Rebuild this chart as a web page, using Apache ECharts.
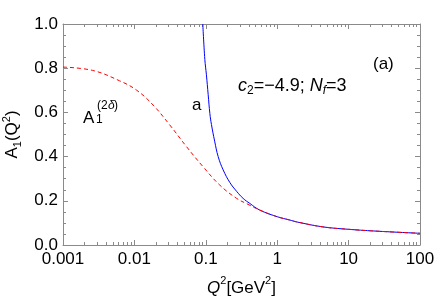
<!DOCTYPE html>
<html>
<head>
<meta charset="utf-8">
<script src="https://cdn.jsdelivr.net/npm/echarts@6/dist/echarts.min.js"></script>
<style>
html,body{margin:0;padding:0;background:#fff;}
#c{width:436px;height:300px;}
</style>
</head>
<body>
<div id="c"></div>
<script>
// ---- data ----
const redQ2 = [0.001, 0.0026, 0.0062, 0.0107, 0.0183, 0.0313, 0.0537, 0.0917, 0.157, 0.27, 0.39, 0.57, 1.0, 1.5, 1.9, 4.36, 10, 27, 100];
const redA  = [0.805, 0.790, 0.743, 0.701, 0.633, 0.543, 0.445, 0.354, 0.271, 0.211, 0.184, 0.158, 0.128, 0.113, 0.104, 0.082, 0.071, 0.062, 0.053];
const blueQ2 = [0.0908, 0.0969, 0.102, 0.108, 0.114, 0.120, 0.133, 0.149, 0.175, 0.217, 0.27, 0.333, 0.414, 0.57, 1.0, 1.5, 1.9, 4.36, 10, 27, 100];
const blueA  = [1.0, 0.84, 0.77, 0.68, 0.595, 0.545, 0.47, 0.40, 0.34, 0.283, 0.243, 0.211, 0.188, 0.158, 0.128, 0.113, 0.104, 0.082, 0.071, 0.062, 0.053];
const xTickValues = [0.001, 0.01, 0.1, 1, 10, 100];
const xTickLabels = ['0.001', '0.01', '0.1', '1', '10', '100'];
const yTickLabels = ['0.0', '0.2', '0.4', '0.6', '0.8', '1.0'];

const xMajorLog = xTickValues.map(v => Math.round(Math.log10(v)));
const xMinorLog = [];
for (let d = -3; d <= 1; d++) for (let m = 2; m <= 9; m++) xMinorLog.push(d + Math.log10(m));

const gray = '#8a8a8a';
const FONT = 'Liberation Sans, Arial, sans-serif';
const FS = 17;

const chart = echarts.init(document.getElementById('c'), null, {renderer: 'canvas'});

// tick/label helper axes in log10 space (exactly aligned with the log data axis)
function tickX(pos, values, len, line, labels, name) {
  const ax = {
    type: 'value', min: -3, max: 2, interval: 1, position: pos,
    axisLine: {show: line, onZero: false, lineStyle: {color: gray, width: 1}},
    axisTick: {show: true, inside: true, length: len, customValues: values, lineStyle: {color: gray, width: 1}},
    axisLabel: {show: labels, margin: 6, color: '#000', fontFamily: FONT, fontSize: FS,
      customValues: labels ? xMajorLog : undefined,
      formatter: (v) => { const k = xMajorLog.indexOf(Math.round(v)); return k >= 0 ? xTickLabels[k] : ''; }},
    splitLine: {show: false}, minorTick: {show: false}, minorSplitLine: {show: false}
  };
  if (name) {
    ax.name = '{i|Q}{sup|2}{a|[GeV}{sup|2}{a|]}';
    ax.nameLocation = 'middle';
    ax.nameGap = 30;
    ax.nameTextStyle = {
      color: '#000', fontFamily: FONT, fontSize: FS,
      rich: {
        i: {fontStyle: 'italic', fontFamily: FONT, fontSize: FS, color: '#000', lineHeight: 22, verticalAlign: 'bottom'},
        a: {fontFamily: FONT, fontSize: FS, color: '#000', lineHeight: 22, verticalAlign: 'bottom'},
        sup: {fontFamily: FONT, fontSize: 11, color: '#000', lineHeight: 12, verticalAlign: 'top'}
      }
    };
  }
  return ax;
}

function valY(pos, labels, name) {
  const ax = {
    type: 'value', min: 0, max: 1, interval: 0.2, position: pos,
    axisLine: {show: true, onZero: false, lineStyle: {color: gray, width: 1}},
    axisTick: {show: true, inside: true, length: 5, lineStyle: {color: gray, width: 1}},
    minorTick: {show: true, splitNumber: 4, length: 3, lineStyle: {color: gray, width: 1}},
    axisLabel: {show: labels, margin: 5, color: '#000', fontFamily: FONT, fontSize: FS,
      formatter: (v) => yTickLabels[Math.round(v * 5)]},
    splitLine: {show: false}
  };
  if (name) {
    ax.name = '{a|A}{sub|1}{a|(Q}{sup|2}{a|)}';
    ax.nameLocation = 'middle';
    ax.nameGap = 37;
    ax.nameTextStyle = {
      color: '#000', fontFamily: FONT, fontSize: FS,
      rich: {
        a: {fontFamily: FONT, fontSize: FS, color: '#000', lineHeight: 22, verticalAlign: 'middle'},
        sup: {fontFamily: FONT, fontSize: 11, color: '#000', lineHeight: 12, verticalAlign: 'top'},
        sub: {fontFamily: FONT, fontSize: 11, color: '#000', lineHeight: 12, verticalAlign: 'bottom'}
      }
    };
  }
  return ax;
}

const txt = (x, y, s, size, style) => ({
  type: 'text', x: x, y: y, z: 100,
  style: {text: s, fontFamily: FONT, fontSize: size, fontStyle: style || 'normal', fill: '#000', textVerticalAlign: 'alphabetic'}
});

chart.setOption({
  animation: false,
  backgroundColor: '#fff',
  grid: {left: 63, right: 16, top: 24, bottom: 55, containLabel: false, outerBoundsMode: 'none'},
  xAxis: [
    // data axis (log scale), invisible; ticks/labels come from the aligned helper axes
    {type: 'log', logBase: 10, min: 0.001, max: 100, position: 'bottom',
     axisLine: {show: false}, axisTick: {show: false}, axisLabel: {show: false}, splitLine: {show: false}},
    tickX('bottom', xMajorLog, 5, true, true, true),
    tickX('bottom', xMinorLog, 3, false, false, false),
    tickX('top', xMajorLog, 5, true, false, false),
    tickX('top', xMinorLog, 3, false, false, false)
  ],
  yAxis: [valY('left', true, true), valY('right', false, false)],
  series: [
    {
      type: 'line', xAxisIndex: 0, yAxisIndex: 0, showSymbol: false, symbol: 'none',
      smooth: 0.4, clip: true,
      data: blueQ2.map((q, i) => [q, blueA[i]]),
      lineStyle: {color: '#0000ff', width: 1}, z: 2
    },
    {
      type: 'line', xAxisIndex: 0, yAxisIndex: 0, showSymbol: false, symbol: 'none',
      smooth: 0.4, clip: true,
      data: redQ2.map((q, i) => [q, redA[i]]),
      lineStyle: {color: '#ff0000', width: 1, type: [4, 3]}, z: 3
    }
  ],
  graphic: [
    txt(83, 110, 'A', FS),
    txt(96, 114, '1', 12),
    txt(97, 100, '(2', 12),
    txt(108, 100, 'δ', 12, 'italic'),
    txt(114, 100, ')', 12),
    txt(192, 97, 'a', FS),
    {
      type: 'text', x: 238, y: 77, z: 100,
      style: {
        text: '{i|c}{s|2}{a|=−4.9; }{i|N}{si|f}{a|=3}',
        fontFamily: FONT, fontSize: 18, fill: '#000', textVerticalAlign: 'alphabetic',
        rich: {
          i: {fontStyle: 'italic', fontFamily: FONT, fontSize: 18, fill: '#000', lineHeight: 20, verticalAlign: 'top'},
          a: {fontFamily: FONT, fontSize: 18, fill: '#000', lineHeight: 20, verticalAlign: 'top'},
          s: {fontFamily: FONT, fontSize: 12, fill: '#000', lineHeight: 12, verticalAlign: 'bottom'},
          si: {fontFamily: FONT, fontSize: 12, fontStyle: 'italic', fill: '#000', lineHeight: 12, verticalAlign: 'bottom'}
        }
      }
    },
    txt(373, 56, '(a)', FS)
  ]
});
</script>
</body>
</html>
